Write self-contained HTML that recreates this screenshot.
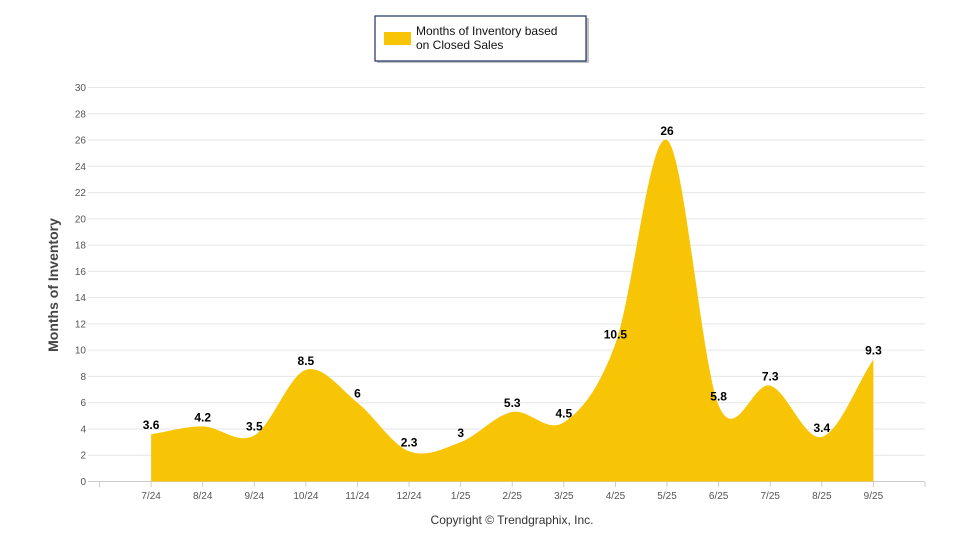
<!DOCTYPE html>
<html><head><meta charset="utf-8"><style>
body{margin:0;background:#fff;}
svg{font-family:"Liberation Sans",Arial,sans-serif;}
</style></head><body>
<svg id="c" width="960" height="550" xmlns="http://www.w3.org/2000/svg">
<rect x="0" y="0" width="960" height="550" fill="#fff"/>
<g id="grid"></g>
<path id="area" fill="#F7C505" d=""/>
<g id="labels"></g>
<rect x="377" y="18" width="212" height="45" fill="#999" opacity="0.6"/>
<rect x="375" y="16" width="211" height="45" fill="#fff" stroke="#1b3060" stroke-width="1.2"/>
<rect x="384" y="32" width="27" height="13" fill="#F7C505"/>
<text x="416" y="35" font-size="12" fill="#111">Months of Inventory based</text>
<text x="416" y="49" font-size="12" fill="#111">on Closed Sales</text>
<text transform="translate(58,285) rotate(-90)" text-anchor="middle" font-size="14" font-weight="bold" fill="#444">Months of Inventory</text>
<text x="512" y="524" text-anchor="middle" font-size="12" fill="#333">Copyright © Trendgraphix, Inc.</text>
</svg>
<script>
var ns="http://www.w3.org/2000/svg";
function el(t,a,txt){var e=document.createElementNS(ns,t);for(var k in a)e.setAttribute(k,a[k]);if(txt!==undefined)e.textContent=txt;return e;}
var g=document.getElementById('grid'),L=document.getElementById('labels');
var y0=481.5,sc=(481.5-87.5)/30;
for(var v=0;v<=30;v+=2){var y=y0-v*sc;
 g.appendChild(el('line',{x1:88,x2:925,y1:y,y2:y,stroke:v==0?'#ccc':'#e6e6e6','stroke-width':1}));
 g.appendChild(el('text',{x:86,y:y+3.5,'text-anchor':'end','font-size':'10',fill:'#555'},v));}
var cats=['7/24','8/24','9/24','10/24','11/24','12/24','1/25','2/25','3/25','4/25','5/25','6/25','7/25','8/25','9/25'];
var vals=[3.6,4.2,3.5,8.5,6,2.3,3,5.3,4.5,10.5,26,5.8,7.3,3.4,9.3];
var x0=99.5,st=(925-99.5)/16;
for(var i=0;i<=16;i++){var x=x0+i*st;g.appendChild(el('line',{x1:x,x2:x,y1:482,y2:487,stroke:'#ccc'}));}
var P=vals.map(function(v,i){return [x0+(i+1)*st,y0-v*sc];});
cats.forEach(function(c,i){L.appendChild(el('text',{x:P[i][0],y:499,'text-anchor':'middle','font-size':'10',fill:'#555'},c));
 L.appendChild(el('text',{x:P[i][0],y:P[i][1]-5,'text-anchor':'middle','font-size':'12','font-weight':'bold',fill:'#000'},vals[i]));});
var d='M'+P[0][0]+','+y0+' L'+P[0][0]+','+P[0][1];
var n=P.length;
function slope(i){var a=P[Math.max(i-1,0)],b=P[Math.min(i+1,n-1)];return (b[1]-a[1])/(b[0]-a[0]);}
for(var i=1;i<n;i++){var a=P[i-1],b=P[i],h=(b[0]-a[0])/3;
 var m1=slope(i-1),m2=slope(i);
 d+=' C'+(a[0]+h)+','+(a[1]+m1*h)+' '+(b[0]-h)+','+(b[1]-m2*h)+' '+b[0]+','+b[1];}
d+=' L'+P[n-1][0]+','+y0+' Z';
document.getElementById('area').setAttribute('d',d);
</script>
</body></html>
